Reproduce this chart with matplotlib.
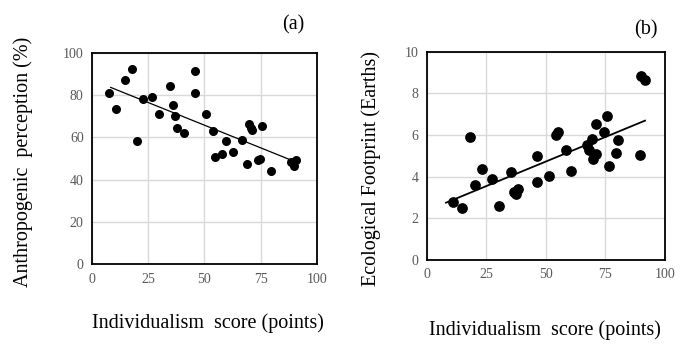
import numpy as np
import matplotlib
matplotlib.use('Agg')
import matplotlib.pyplot as plt

plt.rcParams['font.family'] = ['Liberation Serif', 'DejaVu Serif']

# panel (a): individualism vs anthropogenic perception
indiv_a = [7.7, 10.7, 14.7, 17.8, 19.9, 22.8, 26.9, 29.8, 34.7, 35.9, 36.8, 37.8, 41.0,
           45.8, 45.8, 50.9, 53.9, 54.7, 57.9, 59.8, 62.9, 66.9, 68.8, 69.9, 70.8, 71.1,
           73.9, 74.9, 75.8, 79.8, 88.7, 89.9, 90.9]
percep_a = [81.1, 73.2, 86.9, 92.3, 58.4, 78.0, 79.1, 71.2, 84.4, 75.4, 70.1, 64.3, 62.2,
            91.3, 81.1, 71.2, 63.1, 50.9, 52.0, 58.4, 53.2, 58.9, 47.2, 66.5, 64.4, 63.3,
            49.3, 49.8, 65.2, 44.1, 48.3, 46.3, 49.4]
trend_a_x = [8.3, 87.8]
trend_a_y = [83.6, 49.6]

# panel (b): individualism vs ecological footprint
indiv_b = [11.2, 15.0, 18.1, 20.2, 23.2, 27.3, 30.4, 35.2, 36.6, 37.4, 38.4, 46.4, 46.4,
           51.4, 54.2, 55.2, 58.4, 60.5, 67.2, 68.2, 69.3, 70.0, 71.3, 71.3, 74.4, 75.6,
           76.5, 79.4, 80.3, 89.4, 90.1, 91.6]
footprint_b = [2.77, 2.48, 5.89, 3.62, 4.37, 3.89, 2.59, 4.21, 3.28, 3.18, 3.39, 5.01, 3.73,
               4.05, 6.00, 6.16, 5.28, 4.27, 5.50, 5.28, 5.81, 4.83, 6.54, 5.09, 6.14, 6.91,
               4.51, 5.12, 5.78, 5.04, 8.85, 8.62]
trend_b_x = [8.1, 91.7]
trend_b_y = [2.75, 6.69]

fig = plt.figure(figsize=(6.96, 3.52), dpi=100)
ax1 = fig.add_axes([0.1322, 0.2491, 0.3228, 0.6012])
ax2 = fig.add_axes([0.6131, 0.2614, 0.3420, 0.5917])

def style(ax, yticks):
    ax.set_xlim(0, 100)
    ax.set_xticks([0, 25, 50, 75, 100])
    ax.set_ylim(yticks[0], yticks[-1])
    ax.set_yticks(yticks)
    ax.grid(True, color='#d9d9d9', linewidth=1.0)
    ax.set_axisbelow(True)
    for s in ax.spines.values():
        s.set_linewidth(1.3)
        s.set_color('black')
    ax.tick_params(length=0, labelsize=10, labelcolor='#595959', pad=6)

style(ax1, [0, 20, 40, 60, 80, 100])
ax1.scatter(indiv_a, percep_a, s=30, color='black', zorder=3)
ax1.plot(trend_a_x, trend_a_y, color='black', linewidth=0.9, zorder=2)

style(ax2, [0, 2, 4, 6, 8, 10])
ax2.scatter(indiv_b, footprint_b, s=45, color='black', zorder=3)
ax2.plot(trend_b_x, trend_b_y, color='black', linewidth=1.3, zorder=2)

fig.text(208, 352 - 323, 'Individualism  score (points)', transform=None,
         ha='center', va='center', fontsize=14.5)
fig.text(545, 352 - 330, 'Individualism  score (points)', transform=None,
         ha='center', va='center', fontsize=14.5)
fig.text(23, 352 - 162, 'Anthropogenic  perception (%)', transform=None, rotation=90,
         ha='center', va='center', fontsize=14.5)
fig.text(371, 352 - 169, 'Ecological Footprint (Earths)', transform=None, rotation=90,
         ha='center', va='center', fontsize=14.5)
fig.text(293, 352 - 25, '(a)', transform=None, ha='center', va='center', fontsize=14.5)
fig.text(646, 352 - 30, '(b)', transform=None, ha='center', va='center', fontsize=14.5)

fig.savefig('out.png', dpi=100)
